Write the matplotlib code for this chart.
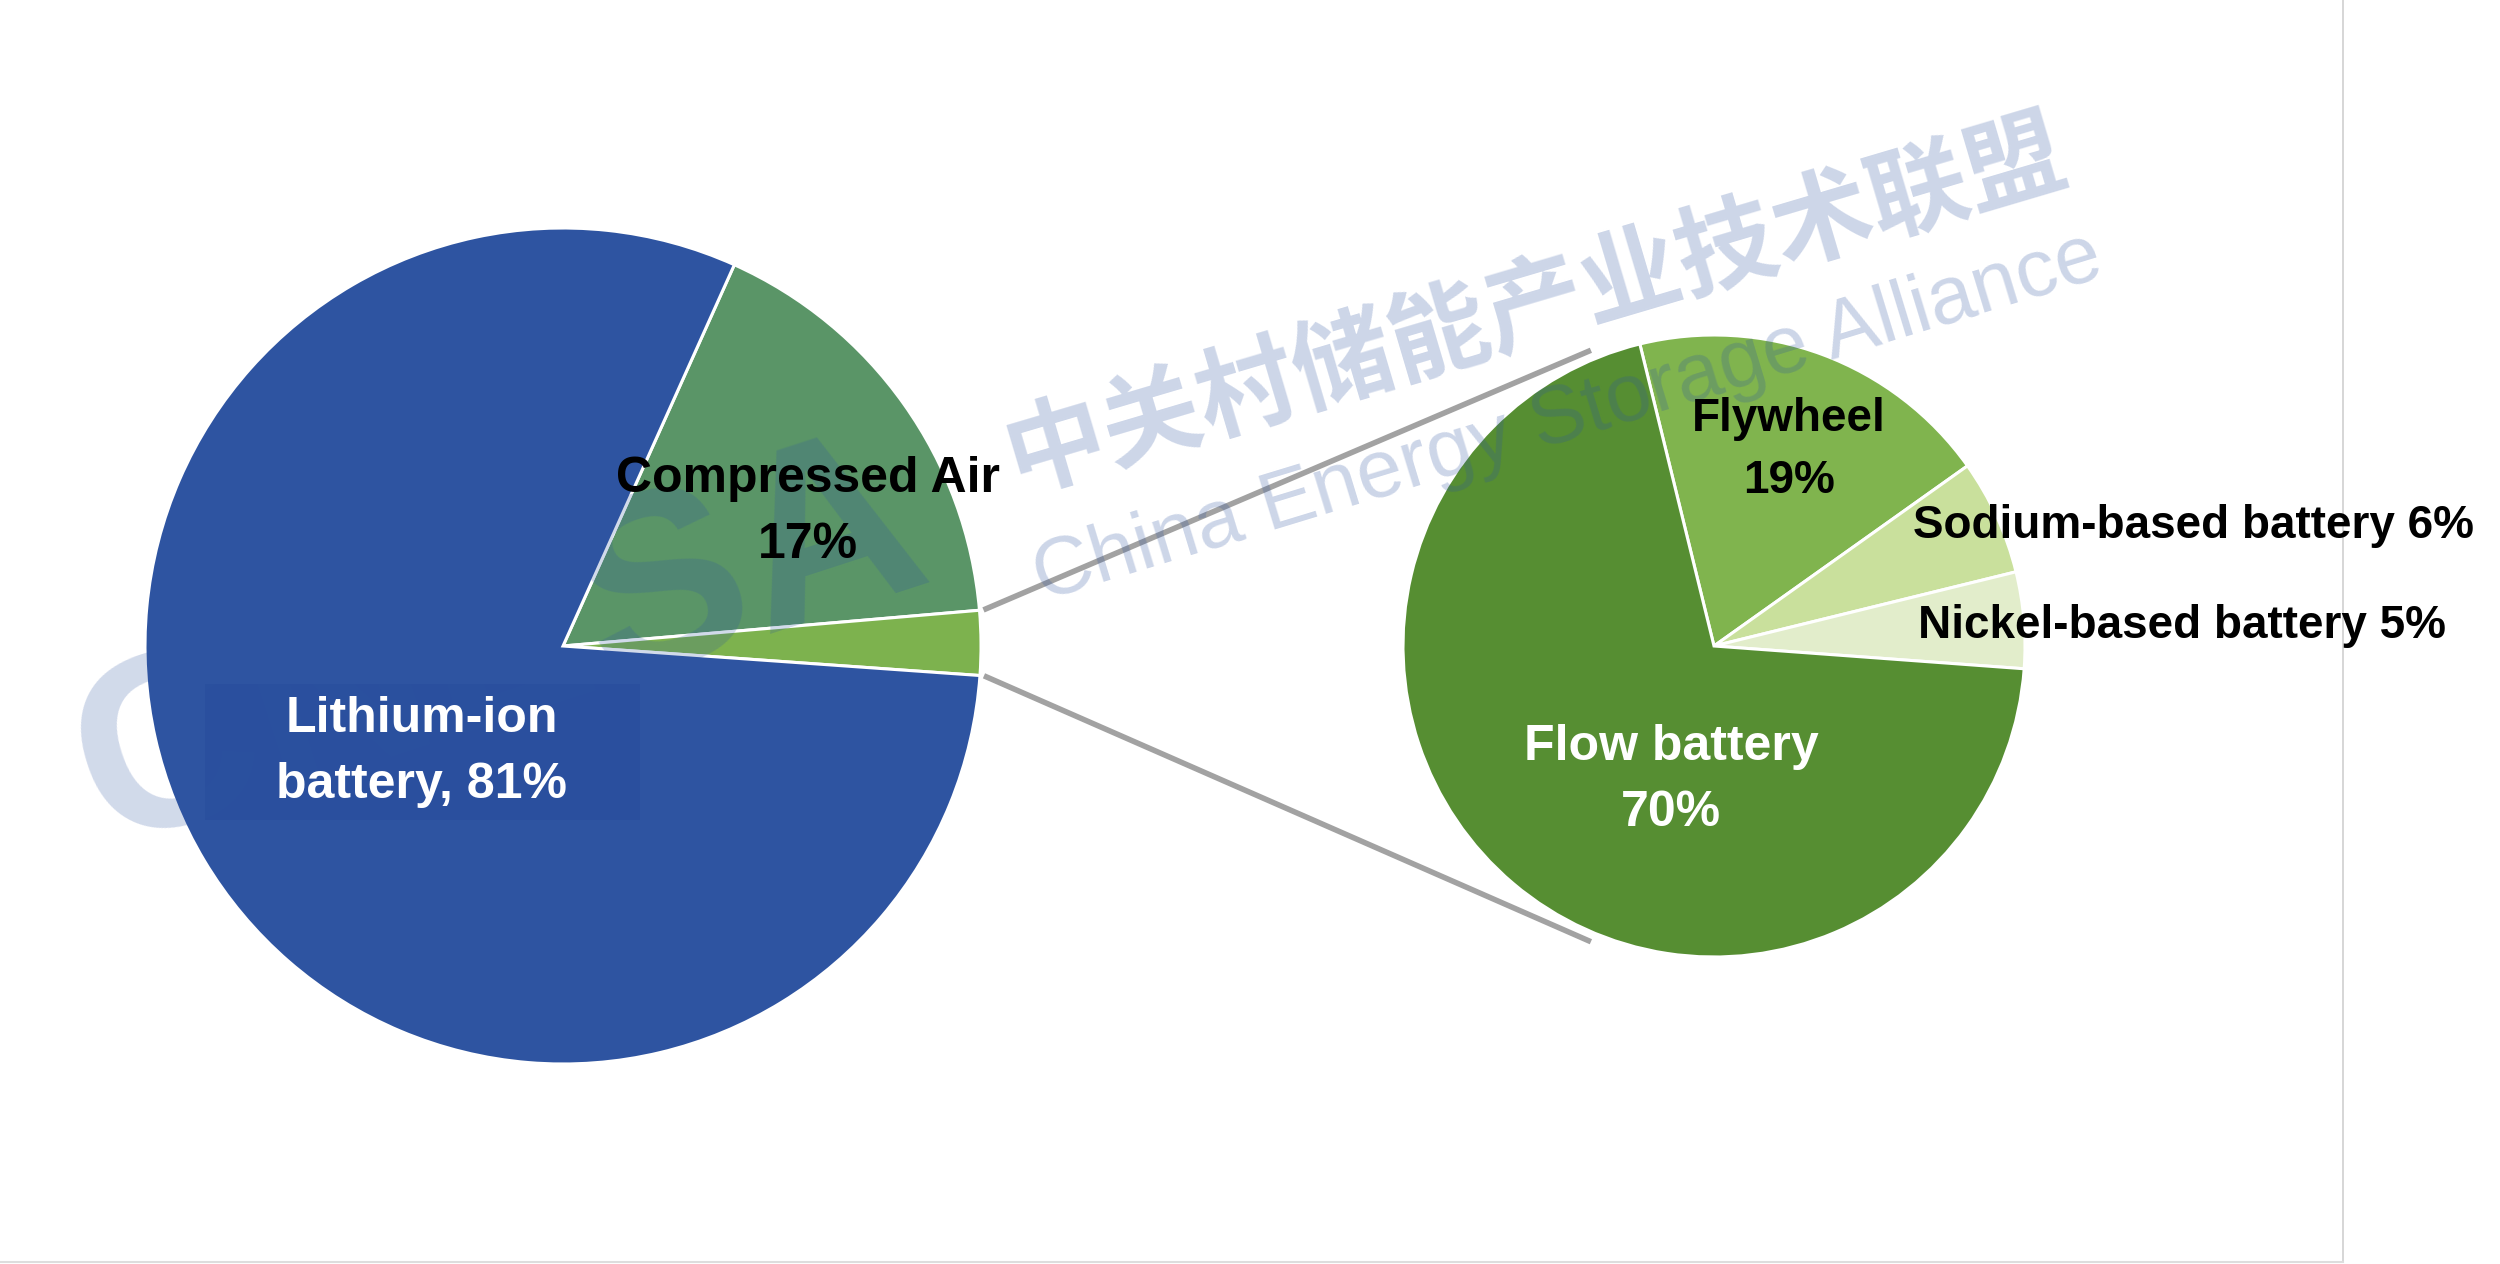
import numpy as np
import matplotlib
matplotlib.use('Agg')
import matplotlib.pyplot as plt
from matplotlib.patches import Rectangle

# Left pie: overall share by technology
main_labels = ['Compressed Air', 'Other', 'Lithium-ion battery']
main_values = [17, 2.5, 81]
main_colors = ['#5A9567', '#7DB24E', '#2E54A1']

# Right pie: breakdown of "Other"
sub_labels = ['Flywheel', 'Sodium-based battery', 'Nickel-based battery', 'Flow battery']
sub_values = [19, 6, 5, 70]
sub_colors = ['#80B44E', '#C9E09C', '#E2EDCB', '#568E32']

# Canvas in pixel units (y up)
fig = plt.figure(figsize=(25, 12.64), dpi=100)
ax = fig.add_axes([0, 0, 1, 1])

left_c, left_r = (563, 618), 418
right_c, right_r = (1714, 618), 311

wedges_l, _ = ax.pie(main_values, colors=main_colors, startangle=65.8, counterclock=False,
                     center=left_c, radius=left_r, explode=[0, 0.02, 0],
                     wedgeprops=dict(edgecolor='white', linewidth=2.2))
wedges_r, _ = ax.pie(sub_values, colors=sub_colors, startangle=103.8, counterclock=False,
                     center=right_c, radius=right_r,
                     wedgeprops=dict(edgecolor='white', linewidth=2.2))
for w in list(wedges_l) + list(wedges_r):
    w.set_zorder(2)

# pie() resets the limits, so set them afterwards
ax.set_xlim(0, 2500)
ax.set_ylim(0, 1264)
ax.set_aspect('equal')
ax.axis('off')

# connector lines from the small slice to the breakdown pie
small = wedges_l[1]
cx, cy = small.center
for th_l, th_r in [(small.theta2, 112.6), (small.theta1, -112.6)]:
    x0 = cx + (small.r + 4) * np.cos(np.radians(th_l))
    y0 = cy + (small.r + 4) * np.sin(np.radians(th_l))
    x1 = right_c[0] + right_r * 1.03 * np.cos(np.radians(th_r))
    y1 = right_c[1] + right_r * 1.03 * np.sin(np.radians(th_r))
    ax.plot([x0, x1], [y0, y1], color='#A2A2A2', lw=4, solid_capstyle='butt', zorder=1)

# watermark (same blue as the big slice, so it almost vanishes on it)
wm = '#2E54A1'
ax.text(500, 614, 'CNESA', fontsize=180, fontweight='bold', color=wm, alpha=0.22,
        ha='center', va='center', rotation=18, rotation_mode='anchor',
        family='Liberation Sans', zorder=3)
ax.text(1535, 958, '中关村储能产业技术联盟', fontsize=72, fontweight='bold', color=wm,
        alpha=0.24, ha='center', va='center', rotation=16.5, rotation_mode='anchor',
        family=['Noto Sans CJK SC', 'DejaVu Sans'], zorder=3)
ax.text(1568, 846, 'China Energy Storage Alliance', fontsize=59, color=wm, alpha=0.24,
        ha='center', va='center', rotation=17, rotation_mode='anchor',
        family='Liberation Sans', zorder=3)

# labels
lab = dict(family='Liberation Sans', fontweight='bold', ha='center', va='center', zorder=5,
           linespacing=1.55)
ax.text(808, 752, 'Compressed Air\n17%', fontsize=36, color='black', **lab)
li = ax.text(422, 512, 'Lithium-ion\nbattery, 81%', fontsize=36, color='white', **lab)
ax.text(1789, 814, 'Flywheel\n19%', fontsize=33, color='black', **lab)
ax.text(1671, 484, 'Flow battery\n70%', fontsize=36, color='white', **lab)
side = dict(family='Liberation Sans', fontweight='bold', ha='left', va='center', zorder=5,
            fontsize=33, color='black')
ax.text(1913, 738, 'Sodium-based battery 6%', **side)
ax.text(1918, 638, 'Nickel-based battery 5%', **side)

# slightly darker box behind the lithium label
fig.canvas.draw()
bb = li.get_window_extent().transformed(ax.transData.inverted())
ax.add_patch(Rectangle((bb.x0 - 72, bb.y0 - 12), bb.width + 144, bb.height + 24,
                       fc='#2A4F9E', ec='none', zorder=2.5))

# frame lines of the original slide
ax.plot([2343, 2343], [2, 1264], color='#CFCFCF', lw=1.2, zorder=0)
ax.plot([0, 2343], [2, 2], color='#DDDDDD', lw=1.5, zorder=0)

fig.savefig('out.png', dpi=100, facecolor='white')
